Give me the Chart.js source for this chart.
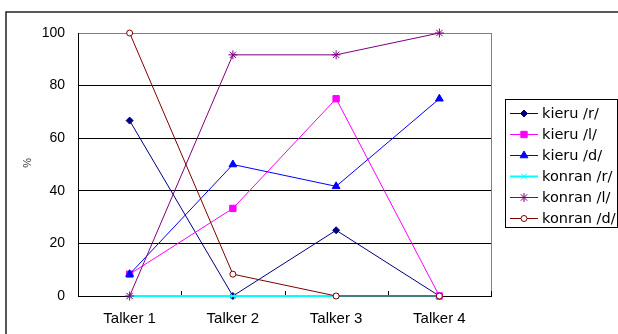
<!DOCTYPE html>
<html>
<head>
<meta charset="utf-8">
<script src="https://cdn.jsdelivr.net/npm/chart.js@4"></script>
<style>
  html, body { margin: 0; padding: 0; background: #fff; }
  #c { display: block; }
</style>
</head>
<body>
<canvas id="c" width="618" height="334"></canvas>
<script>
// Categories and series (percent)
const talkers = ['Talker 1', 'Talker 2', 'Talker 3', 'Talker 4'];
const kieruR  = [66.7, 0, 25, 0];
const kieruL  = [8.3, 33.3, 75, 0];
const kieruD  = [8.3, 50, 41.7, 75];
const konranR = [0, 0, 0, 0];
const konranL = [0, 91.7, 91.7, 100];
const konranD = [100, 8.3, 0, 0];
const yTicks  = [0, 20, 40, 60, 80, 100];

const FONT = 'Liberation Sans, Arial, sans-serif';
const LEGEND_FONT = 'DejaVu Sans, sans-serif';

function series(label, data, color, style, radius, fill, width) {
  return {
    label, data,
    borderColor: color,
    backgroundColor: fill || color,
    pointBorderColor: color,
    pointBackgroundColor: fill || color,
    pointStyle: style,
    pointRadius: radius,
    pointBorderWidth: 1,
    borderWidth: width || 1,
    tension: 0,
    fill: false,
    clip: false
  };
}

const datasets = [
  series('kieru /r/',  kieruR,  '#000080', 'rectRot',  3.5),
  series('kieru /l/',  kieruL,  '#FF00FF', 'rect',     4.5),
  series('kieru /d/',  kieruD,  '#0000FF', 'triangle', 4.5),
  series('konran /r/', konranR, '#00FFFF', 'crossRot', 4, null, 2),
  series('konran /l/', konranL, '#800080', 'star',     4.5),
  series('konran /d/', konranD, '#800000', 'circle',   3, '#FFFFFF')
];
// later series are painted over earlier ones
datasets.forEach((d, i) => { d.order = datasets.length - i; });

// frame, plot border, category tick marks, axis label and boxed legend
const decorations = {
  id: 'decorations',
  beforeDraw(chart) {
    const ctx = chart.ctx;
    ctx.save();
    ctx.fillStyle = '#fff';
    ctx.fillRect(0, 0, chart.width, chart.height);
    ctx.restore();
  },
  beforeDatasetsDraw(chart) {
    const ctx = chart.ctx;
    const a = chart.chartArea;
    const xs = chart.scales.x;
    ctx.save();
    // right edge of plot area
    ctx.strokeStyle = '#808080';
    ctx.lineWidth = 1;
    ctx.beginPath();
    ctx.moveTo(Math.round(a.right) + 0.5, a.top);
    ctx.lineTo(Math.round(a.right) + 0.5, a.bottom);
    ctx.stroke();
    // tick marks between categories, pointing up into the plot
    ctx.strokeStyle = '#000';
    ctx.beginPath();
    for (let i = 1; i <= talkers.length; i++) {
      const x = i < talkers.length
        ? (xs.getPixelForTick(i - 1) + xs.getPixelForTick(i)) / 2
        : a.right;
      const px = Math.round(x) + 0.5;
      ctx.moveTo(px, a.bottom);
      ctx.lineTo(px, a.bottom - 5);
    }
    ctx.stroke();
    ctx.restore();
  },
  afterDraw(chart) {
    const ctx = chart.ctx;
    ctx.save();
    // outer frame
    ctx.strokeStyle = '#222';
    ctx.lineWidth = 1.5;
    ctx.strokeRect(6, 12, chart.width + 10, chart.height + 10);

    // y axis label
    ctx.fillStyle = '#333';
    ctx.font = '11px ' + FONT;
    ctx.textAlign = 'center';
    ctx.textBaseline = 'middle';
    ctx.translate(26, 163);
    ctx.rotate(Math.PI / 2);
    ctx.fillText('%', 0, 0);
    ctx.setTransform(1, 0, 0, 1, 0, 0);

    // legend box
    ctx.strokeStyle = '#000';
    ctx.lineWidth = 1;
    ctx.strokeRect(505.5, 99.5, 112, 128);
    ctx.font = '14.5px ' + LEGEND_FONT;
    ctx.textAlign = 'left';
    ctx.textBaseline = 'middle';
    chart.data.datasets.forEach((d, i) => {
      const y = 113 + i * 21;
      ctx.strokeStyle = d.borderColor;
      ctx.lineWidth = d.borderWidth;
      ctx.beginPath();
      ctx.moveTo(510, y + 0.5);
      ctx.lineTo(538, y + 0.5);
      ctx.stroke();
      ctx.fillStyle = d.pointBackgroundColor;
      ctx.strokeStyle = d.pointBorderColor;
      ctx.lineWidth = 1;
      Chart.helpers.drawPoint(ctx, {
        pointStyle: d.pointStyle,
        radius: d.pointRadius,
        rotation: 0,
        borderWidth: 1
      }, 524, y + 0.5);
      ctx.fillStyle = '#000';
      ctx.fillText(d.label, 542, y + 1);
    });
    ctx.restore();
  }
};

new Chart(document.getElementById('c'), {
  type: 'line',
  data: { labels: talkers, datasets },
  options: {
    responsive: false,
    animation: false,
    devicePixelRatio: 1,
    layout: { padding: { left: 0, top: 33, right: 127, bottom: 0 } },
    plugins: { legend: { display: false }, tooltip: { enabled: false } },
    scales: {
      x: {
        offset: true,
        grid: { display: false, drawTicks: false, offset: true },
        border: { display: true, color: '#000', width: 1 },
        ticks: { color: '#000', font: { family: FONT, size: 15 }, padding: 14, maxRotation: 0 },
        afterFit(s) { s.height = 38; }
      },
      y: {
        min: 0,
        max: 100,
        afterBuildTicks(s) { s.ticks = yTicks.map(v => ({ value: v })); },
        grid: {
          drawTicks: false,
          color: c => (c.tick && c.tick.value === 100) ? '#808080' : '#000',
          lineWidth: 1
        },
        border: { display: true, color: '#000', width: 1 },
        ticks: { color: '#000', font: { family: FONT, size: 14 }, padding: 13 },
        afterFit(s) { s.width = 78; }
      }
    }
  },
  plugins: [decorations]
});
</script>
</body>
</html>
